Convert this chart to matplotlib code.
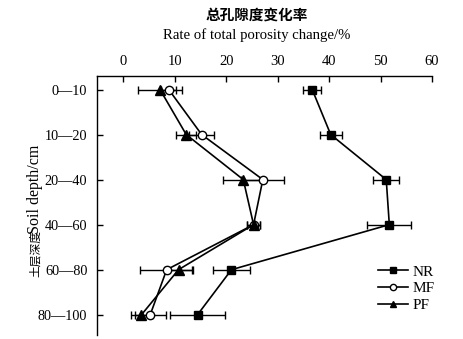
import matplotlib
matplotlib.use("Agg")
import matplotlib.pyplot as plt
from matplotlib.lines import Line2D
import numpy as np

depths = ["0—10", "10—20", "20—40", "40—60", "60—80", "80—100"]
nr = [36.7, 40.3, 51.1, 51.7, 21.0, 14.4]
nr_err = [1.8, 2.1, 2.5, 4.3, 3.6, 5.3]
mf = [8.8, 15.2, 27.1, 25.3, 8.4, 5.2]
mf_err = [1.5, 2.4, 4.2, 1.2, 5.1, 3.0]
pf = [7.1, 12.2, 23.3, 25.3, 10.7, 3.5]
pf_err = [4.3, 1.9, 4.0, 1.2, 2.7, 2.1]
xticks = [0, 10, 20, 30, 40, 50, 60]

serif = ["Liberation Serif", "DejaVu Serif"]
cjk = ["Noto Sans CJK SC", "Liberation Serif"]

W, H = 463, 339
fig = plt.figure(figsize=(W / 100, H / 100), dpi=100)
ax = fig.add_axes([97 / W, 1 - 335 / H, (432 - 97) / W, (335 - 76) / H])

y = np.arange(len(depths))
common = dict(color="black", lw=1.2, capsize=3, elinewidth=1.0, capthick=1.0)
ax.errorbar(nr, y, xerr=nr_err, marker="s", ms=6, mfc="black", mec="black", **common)
ax.errorbar(mf, y, xerr=mf_err, marker="o", ms=6, mfc="white", mec="black", **common)
ax.errorbar(pf, y, xerr=pf_err, marker="^", ms=6.5, mfc="black", mec="black", **common)

ax.set_xlim(-5.15, 60)
ax.set_ylim(5.45, -0.3)
ax.xaxis.tick_top()
ax.set_xticks(xticks)
ax.set_xticklabels([str(v) for v in xticks], fontfamily=serif, fontsize=10.5)
ax.set_yticks(y)
ax.set_yticklabels(depths, fontfamily=serif, fontsize=10.3)
ax.tick_params(axis="both", direction="in", length=4, width=1.0)
ax.tick_params(axis="x", pad=6)
ax.tick_params(axis="y", pad=7)
for s in ["right", "bottom"]:
    ax.spines[s].set_visible(False)
for s in ["left", "top"]:
    ax.spines[s].set_linewidth(1.0)

fig.text(257 / W, 1 - 15 / H, "总孔隙度变化率", ha="center", va="center",
         fontfamily=cjk, fontsize=10.5, fontweight="bold")
fig.text(257 / W, 1 - 35 / H, "Rate of total porosity change/%", ha="center", va="center",
         fontfamily=serif, fontsize=10.6)
fig.text(35 / W, 1 - 277 / H, "土层深度", ha="left", va="center", rotation=90,
         rotation_mode="anchor", fontfamily=cjk, fontsize=8.5)
fig.text(35 / W, 1 - 234 / H, "Soil depth/cm", ha="left", va="center", rotation=90,
         rotation_mode="anchor", fontfamily=serif, fontsize=11.5)

handles = [
    Line2D([], [], color="black", lw=1.2, marker="s", ms=4.5, mfc="black", mec="black"),
    Line2D([], [], color="black", lw=1.2, marker="o", ms=4.5, mfc="white", mec="black"),
    Line2D([], [], color="black", lw=1.2, marker="^", ms=5, mfc="black", mec="black"),
]
ax.legend(handles, ["NR", "MF", "PF"], loc="lower right", bbox_to_anchor=(1.05, 0.035),
          frameon=False, prop={"family": serif, "size": 11}, handlelength=2.0,
          handletextpad=0.3, labelspacing=0.2)

fig.savefig("out.png", dpi=100)
